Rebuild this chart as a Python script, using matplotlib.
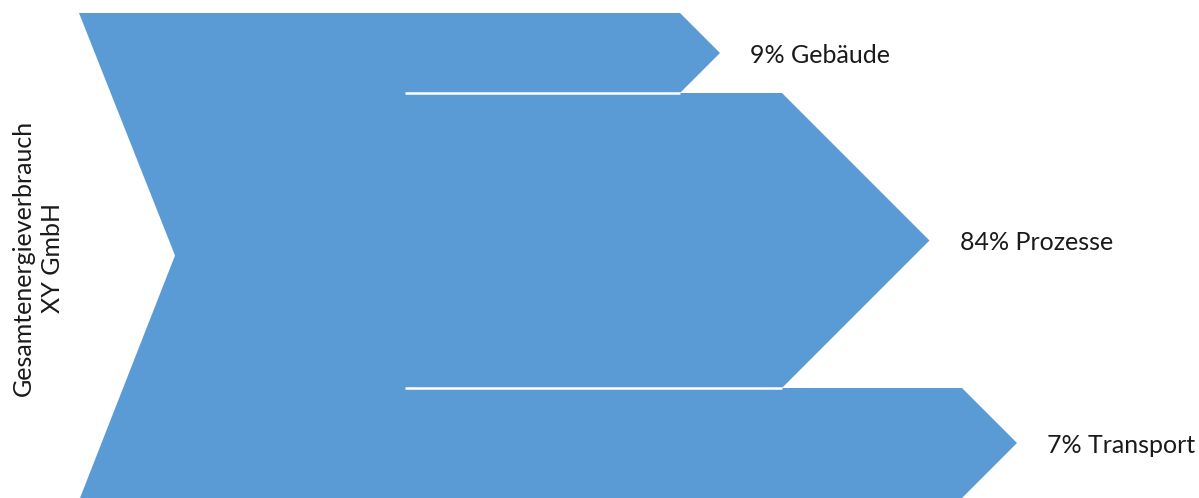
import matplotlib.pyplot as plt
from matplotlib.patches import Polygon

# flows out of the total
shares = [9, 84, 7]
names = ['Gebäude', 'Prozesse', 'Transport']
source = 'Gesamtenergieverbrauch\nXY GmbH'

# drawn band heights (px) and where each arrow body ends
band_h = [80, 295, 110]
body_end = [680, 782, 962]
top = 13
left_x = 79
notch_x = 175
split_x = 405
blue = '#5B9BD5'

fig = plt.figure(figsize=(11.99, 4.98), dpi=100)
ax = fig.add_axes([0, 0, 1, 1])
ax.set_xlim(0, 1199)
ax.set_ylim(498, 0)
ax.axis('off')

edges = [top]
for h in band_h:
    edges.append(edges[-1] + h)

pts = [(left_x, top)]
for i in range(len(shares)):
    y0, y1 = edges[i], edges[i + 1]
    half = (y1 - y0) / 2
    pts += [(body_end[i], y0), (body_end[i] + half, y0 + half), (body_end[i], y1)]
pts += [(left_x + 1, edges[-1]), (notch_x, (top + edges[-1]) / 2)]
ax.add_patch(Polygon(pts, closed=True, facecolor=blue, edgecolor='none'))

# white splits between the branches
for i in range(1, len(shares)):
    ax.plot([split_x, min(body_end[i - 1], body_end[i])], [edges[i], edges[i]],
            color='white', lw=1.8, solid_capstyle='butt')

for i, (s, n) in enumerate(zip(shares, names)):
    y0, y1 = edges[i], edges[i + 1]
    half = (y1 - y0) / 2
    ax.text(body_end[i] + half + 30, y0 + half + 2, f'{s}% {n}',
            fontsize=18, family='Lato', color='#1a1a1a', va='center', ha='left')

ax.text(38, (top + edges[-1]) / 2 + 2, source, rotation=90, fontsize=18,
        family='Lato', color='#1a1a1a', ha='center', va='center',
        multialignment='center', linespacing=1.3)

fig.savefig('out.png', dpi=100)
